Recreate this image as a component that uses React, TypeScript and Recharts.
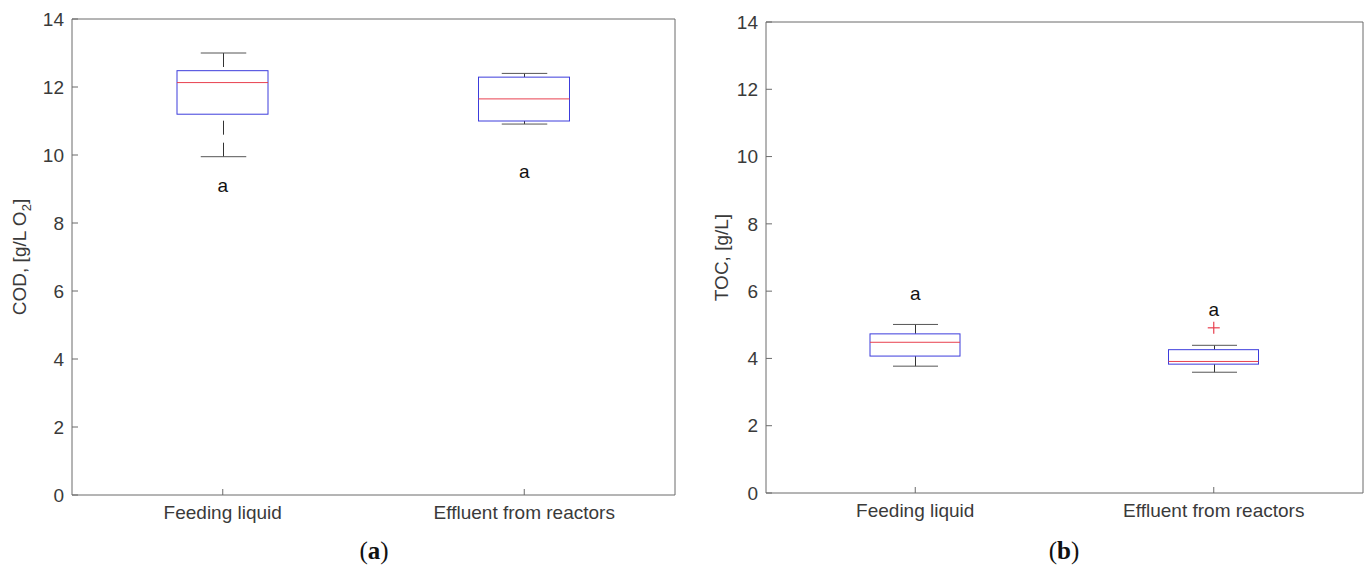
import { Bar, ComposedChart, Label, Scatter, XAxis, YAxis } from 'recharts';

// categories
const groups = ['Feeding liquid', 'Effluent from reactors'];
const letters = ['a', 'a'];
const yTicks = [0, 2, 4, 6, 8, 10, 12, 14];

// (a) COD, g/L O2
const codMin = [9.95, 10.91];
const codQ1 = [11.2, 11.0];
const codMedian = [12.13, 11.65];
const codQ3 = [12.48, 12.29];
const codMax = [13.0, 12.4];
const codOutlier: (number | null)[] = [null, null];
const codLetterY = [9.1, 9.51];

// (b) TOC, g/L
const tocMin = [3.77, 3.59];
const tocQ1 = [4.07, 3.83];
const tocMedian = [4.48, 3.91];
const tocQ3 = [4.73, 4.26];
const tocMax = [5.01, 4.39];
const tocOutlier: (number | null)[] = [null, 4.91];
const tocLetterY = [5.92, 5.46];

const buildRows = (
  min: number[], q1: number[], median: number[], q3: number[], max: number[],
  outlier: (number | null)[], letterY: number[],
) =>
  groups.map((name, i) => ({
    name,
    min: min[i],
    q1: q1[i],
    median: median[i],
    q3: q3[i],
    max: max[i],
    outlier: outlier[i],
    letterY: letterY[i],
    letter: letters[i],
  }));

const codRows = buildRows(codMin, codQ1, codMedian, codQ3, codMax, codOutlier, codLetterY);
const tocRows = buildRows(tocMin, tocQ1, tocMedian, tocQ3, tocMax, tocOutlier, tocLetterY);

const FONT = '"Liberation Sans", Arial, Helvetica, sans-serif';
const AXIS = '#6b6b6b';
const TEXT = '#3a3a3a';

// the bar spans [min, max]; the box parts are placed inside it on the same linear scale
const BoxShape = (props: any) => {
  const { x, y, width, height, payload } = props;
  const { min, max, q1, q3, median } = payload;
  const perUnit = height / (max - min);
  const py = (v: number) => y + (max - v) * perUnit;
  const cx = Math.round(x + width / 2) + 0.5;
  const cap = width / 4;
  return (
    <g>
      <line x1={cx} x2={cx} y1={py(max)} y2={py(q3)} stroke="#333" strokeDasharray="14 8" />
      <line x1={cx} x2={cx} y1={py(min)} y2={py(q1)} stroke="#333" strokeDasharray="14 8" />
      <line x1={cx - cap} x2={cx + cap} y1={py(max)} y2={py(max)} stroke="#555" />
      <line x1={cx - cap} x2={cx + cap} y1={py(min)} y2={py(min)} stroke="#555" />
      <rect x={x} y={py(q3)} width={width} height={py(q1) - py(q3)} fill="#fff" stroke="#3c3cdc" />
      <line x1={x} x2={x + width} y1={py(median)} y2={py(median)} stroke="#e8404f" />
    </g>
  );
};

const OutlierShape = (props: any) => {
  const { cx, cy, payload } = props;
  if (payload.outlier == null || !Number.isFinite(cy)) return <g />;
  return (
    <g stroke="#e8404f" strokeWidth={1.2}>
      <line x1={cx - 6} x2={cx + 6} y1={cy} y2={cy} />
      <line x1={cx} x2={cx} y1={cy - 6} y2={cy + 6} />
    </g>
  );
};

const LetterShape = (props: any) => {
  const { cx, cy, payload } = props;
  return (
    <text x={cx} y={cy} textAnchor="middle" dominantBaseline="central" fontSize={19} fontFamily={FONT} fill="#111">
      {payload.letter}
    </text>
  );
};

type PanelProps = {
  rows: typeof codRows;
  left: number;
  width: number;
  margin: { top: number; right: number; bottom: number; left: number };
  labelX: number;
  yLabel: React.ReactNode;
  barSize: number;
};

const Panel = ({ rows, left, width, margin, labelX, yLabel, barSize }: PanelProps) => (
  <div style={{ position: 'absolute', left, top: 0 }}>
    <ComposedChart width={width} height={540} data={rows} margin={margin}>
      <XAxis
        dataKey="name"
        height={40}
        tickSize={-6}
        tickMargin={17}
        stroke={AXIS}
        tick={{ fill: TEXT, fontSize: 19, fontFamily: FONT }}
      />
      <XAxis xAxisId="top" dataKey="name" orientation="top" height={1} tickSize={-6} tick={false} stroke={AXIS} />
      <YAxis
        domain={[0, 14]}
        ticks={yTicks}
        width={60}
        tickSize={-6}
        tickMargin={14}
        stroke={AXIS}
        tick={{ fill: TEXT, fontSize: 19, fontFamily: FONT }}
      >
        <Label
          content={({ viewBox }: any) => {
            const cy = viewBox.y + viewBox.height / 2;
            return (
              <text
                x={labelX}
                y={cy}
                transform={`rotate(-90 ${labelX} ${cy})`}
                textAnchor="middle"
                dominantBaseline="central"
                fontSize={19}
                fontFamily={FONT}
                fill={TEXT}
              >
                {yLabel}
              </text>
            );
          }}
        />
      </YAxis>
      <YAxis
        yAxisId="right"
        orientation="right"
        domain={[0, 14]}
        ticks={yTicks}
        width={1}
        tickSize={-6}
        tick={false}
        stroke={AXIS}
      />
      <Bar dataKey={(d: any) => [d.min, d.max]} barSize={barSize} shape={BoxShape} isAnimationActive={false} />
      <Scatter dataKey="outlier" shape={OutlierShape} isAnimationActive={false} />
      <Scatter dataKey="letterY" shape={LetterShape} isAnimationActive={false} />
    </ComposedChart>
  </div>
);

const Caption = ({ x, letter }: { x: number; letter: string }) => (
  <div
    style={{
      position: 'absolute',
      left: x - 40,
      width: 80,
      top: 536,
      textAlign: 'center',
      fontFamily: '"Liberation Serif", "DejaVu Serif", serif',
      fontSize: 25,
      color: '#111',
      lineHeight: '30px',
    }}
  >
    (<b>{letter}</b>)
  </div>
);

export default function App() {
  return (
    <div style={{ position: 'absolute', left: 0, top: 0, width: 1370, height: 575, background: '#fff' }}>
      <Panel
        rows={codRows}
        left={0}
        width={690}
        margin={{ top: 18, right: 14, bottom: 5, left: 12 }}
        labelX={19}
        barSize={91}
        yLabel={
          <>
            COD, [g/L O<tspan baselineShift="sub" fontSize={13}>2</tspan>]
          </>
        }
      />
      <Panel
        rows={tocRows}
        left={690}
        width={680}
        margin={{ top: 21, right: 6, bottom: 7, left: 16 }}
        labelX={31}
        barSize={90}
        yLabel="TOC, [g/L]"
      />
      <Caption x={374} letter="a" />
      <Caption x={1064} letter="b" />
    </div>
  );
}
